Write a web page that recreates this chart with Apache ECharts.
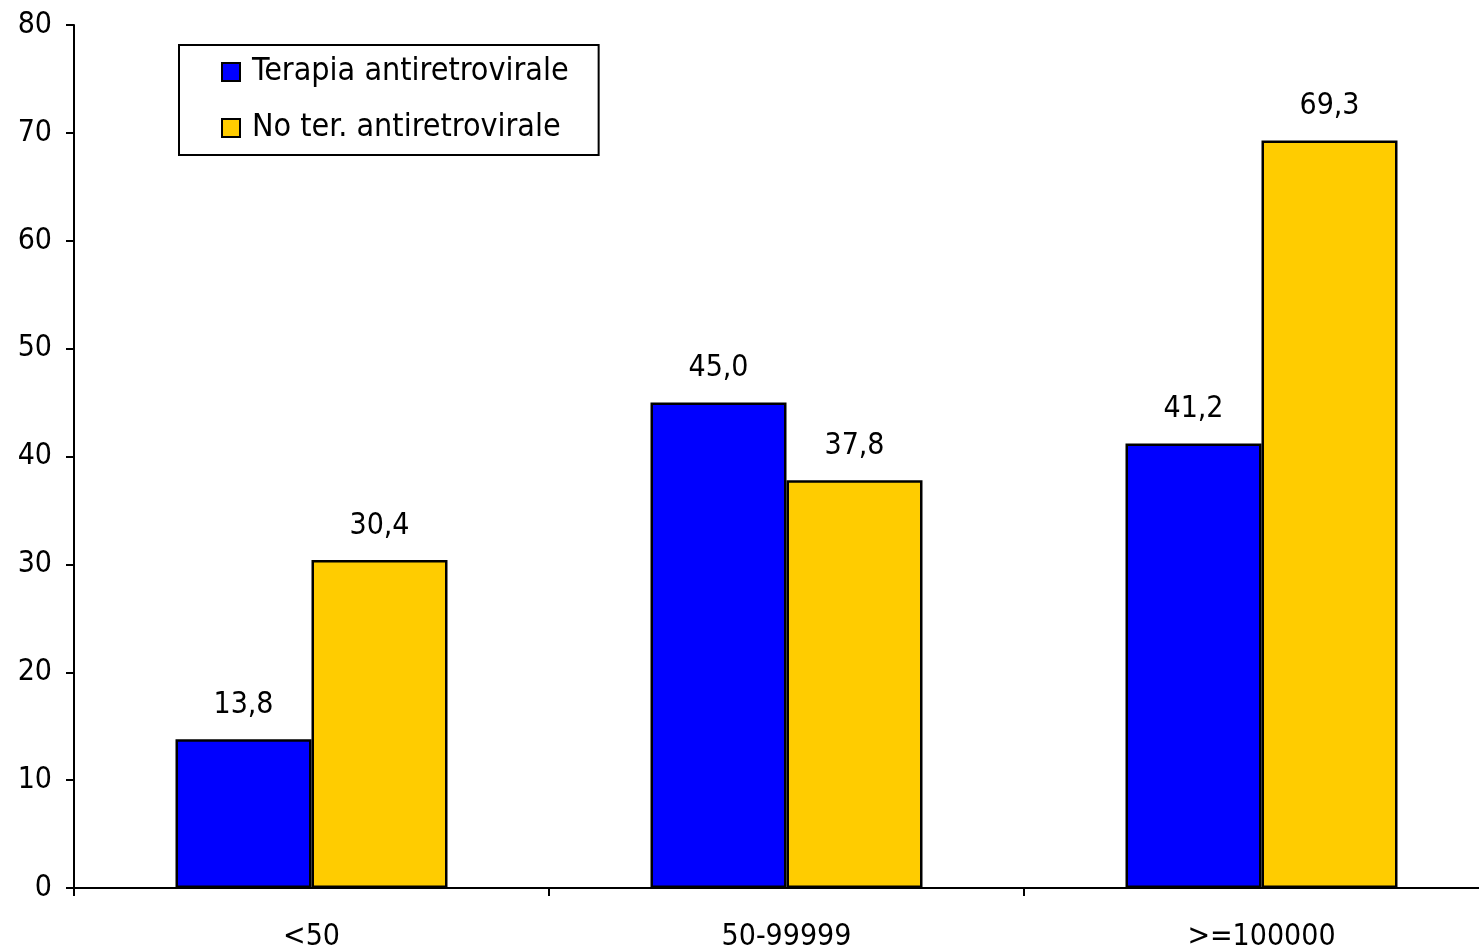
<!DOCTYPE html>
<html><head><meta charset="utf-8">
<script src="https://cdn.jsdelivr.net/npm/echarts@6/dist/echarts.min.js"></script>
<style>html,body{margin:0;padding:0;background:#fff;overflow:hidden}#c{width:1499px;height:952px}</style>
</head><body><div id="c"></div>
<script>
const categories = ['<50', '50-99999', '>=100000'];
const seriesNames = ['Terapia antiretrovirale', 'No ter. antiretrovirale'];
const terapia = [13.8, 45.0, 41.2];
const noTerapia = [30.4, 37.8, 69.3];
const yTicks = [0, 10, 20, 30, 40, 50, 60, 70, 80];

const FONT = '"DejaVu Sans Condensed", "DejaVu Sans", sans-serif';
const chart = echarts.init(document.getElementById('c'));
const fmt = p => p.value.toFixed(1).replace('.', ',');
chart.setOption({
  animation: false,
  backgroundColor: '#fff',
  grid: { left: 74, right: 0, top: 25, bottom: 63, containLabel: false },
  legend: {
    orient: 'vertical', left: 179, top: 45,
    padding: [11, 30, 11, 42],
    itemWidth: 18, itemHeight: 18, itemGap: 24,
    borderColor: '#000', borderWidth: 2,
    textStyle: { fontFamily: FONT, fontSize: 32, color: '#000', lineHeight: 30, padding: [0, 0, 0, 7] },
    data: seriesNames.map(n => ({ name: n, icon: 'rect' })),
    itemStyle: { borderColor: '#000', borderWidth: 2 }
  },
  xAxis: {
    type: 'category', data: categories, boundaryGap: true,
    axisLine: { lineStyle: { color: '#000', width: 2 } },
    axisTick: { show: true, length: 8, lineStyle: { color: '#000', width: 2 } },
    axisLabel: { color: '#000', fontFamily: FONT, fontSize: 30, margin: 34 },
    splitLine: { show: false }
  },
  yAxis: {
    type: 'value', min: yTicks[0], max: yTicks[yTicks.length - 1], interval: 10,
    axisLine: { show: true, lineStyle: { color: '#000', width: 2 } },
    axisTick: { show: true, length: 8, lineStyle: { color: '#000', width: 2 } },
    axisLabel: { color: '#000', fontFamily: FONT, fontSize: 30, margin: 22 },
    splitLine: { show: false }
  },
  series: [
    { name: seriesNames[0], type: 'bar', data: terapia, barWidth: 136, barGap: '0%',
      itemStyle: { color: '#0000FF', borderColor: '#000', borderWidth: 2.5 },
      label: { show: true, position: 'top', distance: 19, formatter: fmt, color: '#000', fontFamily: FONT, fontSize: 30 } },
    { name: seriesNames[1], type: 'bar', data: noTerapia, barWidth: 136, barGap: '0%',
      itemStyle: { color: '#FFCC00', borderColor: '#000', borderWidth: 2.5 },
      label: { show: true, position: 'top', distance: 19, formatter: fmt, color: '#000', fontFamily: FONT, fontSize: 30 } }
  ]
});
</script></body></html>
